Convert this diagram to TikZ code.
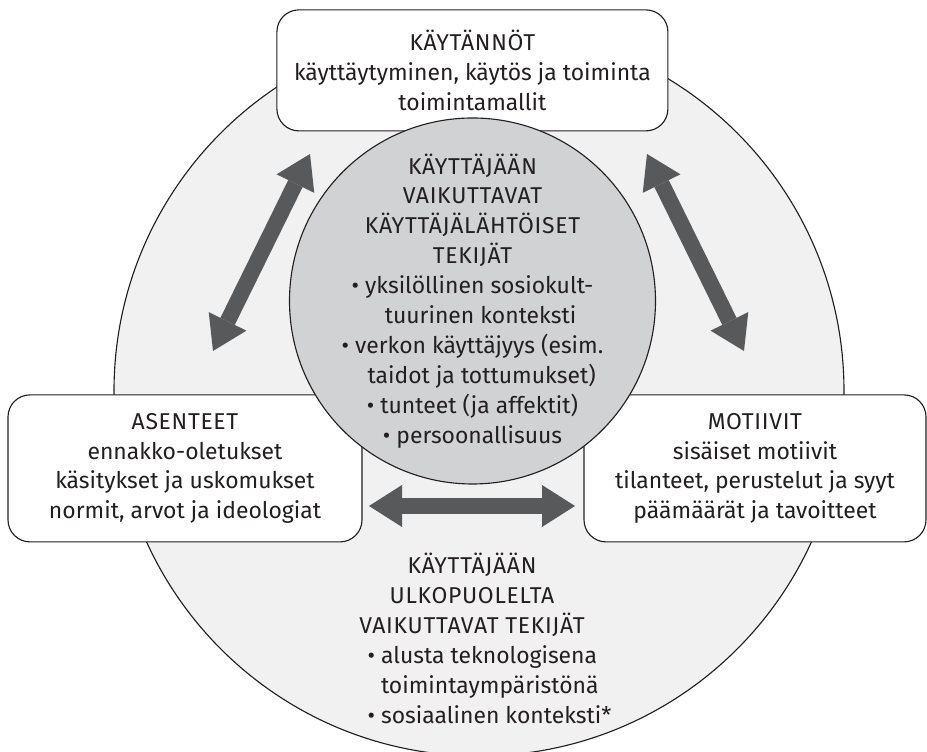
\documentclass[tikz,border=0pt]{standalone}
\usepackage{fontspec}
\IfFontExistsTF{Fira Sans Book}{\setmainfont{Fira Sans Book}}{\setmainfont{Fira Sans}}
\newcommand\uc[1]{{\addfontfeature{LetterSpace=3}#1}}
\usetikzlibrary{arrows.meta}
\definecolor{outerfill}{HTML}{F1F1F1}
\definecolor{innerfill}{HTML}{D1D2D4}
\definecolor{arrowgray}{HTML}{58595B}
\definecolor{ink}{HTML}{231F20}
\begin{document}
\begin{tikzpicture}[line width=0.8pt,
  txt/.style={align=center, text=ink, inner sep=0pt, font=\fontsize{16.3pt}{21.3pt}\selectfont},
  box/.style={txt, draw=ink, fill=white, rounded corners=0.55cm},
  dblarrow/.style={arrowgray, line width=0.4cm,
    {Triangle[length=0.825cm,width=1.05cm,line width=0pt]}-{Triangle[length=0.825cm,width=1.05cm,line width=0pt]}}]
\useasboundingbox (0,0) rectangle (23.175,18.8);
\coordinate (C) at (11.975,9.025);
\draw[ink, fill=outerfill] (C) circle (9.125);
\node[box, minimum width=9.775cm, minimum height=3.025cm] (practices) at (11.81,17.04)
  {\uc{KÄYTÄNNÖT}\\käyttäytyminen, käytös ja toiminta\\toimintamallit};
\node[box, minimum width=8.85cm, minimum height=3.675cm] (attitudes) at (4.625,7.09)
  {\uc{ASENTEET}\\ennakko-oletukset\\käsitykset ja uskomukset\\normit, arvot ja ideologiat};
\node[box, minimum width=8.55cm, minimum height=3.675cm] (motives) at (18.875,7.09)
  {\uc{MOTIIVIT}\\sisäiset motiivit\\tilanteet, perustelut ja syyt\\päämäärät ja tavoitteet};
\node[circle, draw=ink, fill=innerfill, minimum size=9.15cm, inner sep=0pt] (inner) at (11.8125,11.275) {};
\node[txt] (innertext) at (inner.center)
  {\uc{KÄYTTÄJÄÄN}\\\uc{VAIKUTTAVAT}\\\uc{KÄYTTÄJÄLÄHTÖISET}\\\uc{TEKIJÄT}\\
   • yksilöllinen sosiokult-\\\hspace*{0.7em}tuurinen konteksti\\
   • verkon käyttäjyys (esim.\\\hspace*{0.8em}taidot ja tottumukset)\\
   • tunteet (ja affektit)\\• persoonallisuus};
% nuolet
\coordinate (L1) at (7.75,14.95);
\coordinate (L2) at (5.325,10.025);
\coordinate (R1) at (16.175,14.95);
\coordinate (R2) at (18.6,10.025);
\coordinate (H1) at (9.225,6.15);
\coordinate (H2) at (14.375,6.15);
\draw[dblarrow] (L1) -- (L2);
\draw[dblarrow] (R1) -- (R2);
\draw[dblarrow] (H1) -- (H2);
\node[txt] (outerhead) at (11.8,3.925)
  {\uc{KÄYTTÄJÄÄN}\\\uc{ULKOPUOLELTA}\\\uc{VAIKUTTAVAT TEKIJÄT}};
\node[txt, align=left, anchor=west] (outerlist) at (9.175,1.675)
  {• alusta teknologisena\\\hphantom{• }toimintaympäristönä\\• sosiaalinen konteksti*};
\end{tikzpicture}
\end{document}
